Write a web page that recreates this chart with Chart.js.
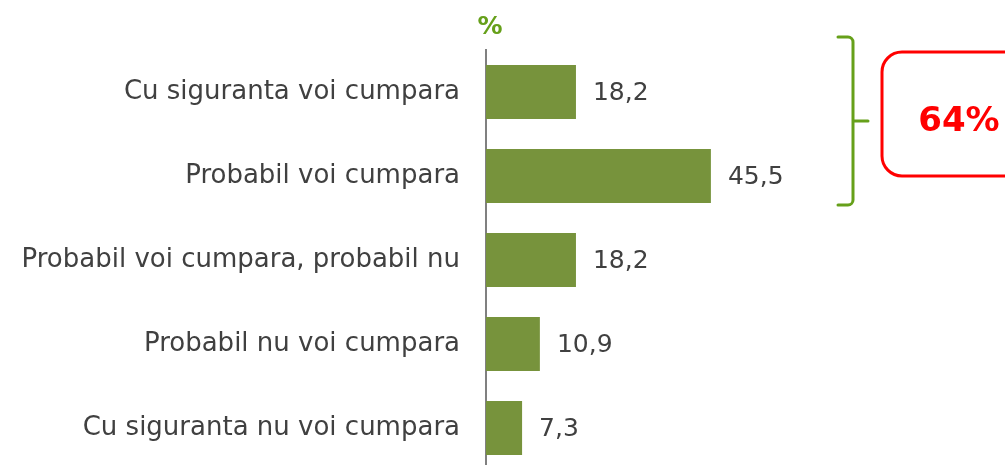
<!DOCTYPE html>
<html>
<head>
<meta charset="utf-8">
<script src="https://cdn.jsdelivr.net/npm/chart.js@4"></script>
<style>
  html, body { margin: 0; padding: 0; background: #fff; overflow: hidden; }
  canvas { display: block; }
</style>
</head>
<body>
<canvas id="chart" width="1005" height="472"></canvas>
<script>
// ---- data ----
const categories = [
  'Cu siguranta voi cumpara',
  'Probabil voi cumpara',
  'Probabil voi cumpara, probabil nu',
  'Probabil nu voi cumpara',
  'Cu siguranta nu voi cumpara'
];
const values = [18.2, 45.5, 18.2, 10.9, 7.3];
const unitLabel = '%';
const summaryLabel = '64%';

const green = '#77933C';
const textColor = '#404040';
const font = 'DejaVu Sans';

// value labels at the end of each bar
const valueLabels = {
  id: 'valueLabels',
  afterDatasetsDraw(chart) {
    const ctx = chart.ctx;
    const meta = chart.getDatasetMeta(0);
    ctx.save();
    ctx.font = '25px "' + font + '"';
    ctx.fillStyle = textColor;
    ctx.textBaseline = 'middle';
    meta.data.forEach((bar, i) => {
      ctx.fillText(values[i].toFixed(1).replace('.', ','), bar.x + 17, bar.y + 1);
    });
    ctx.restore();
  }
};

// "%" title, bracket over first two bars, red box
const extras = {
  id: 'extras',
  afterDraw(chart) {
    const ctx = chart.ctx;
    const area = chart.chartArea;
    const meta = chart.getDatasetMeta(0);
    ctx.save();
    ctx.font = 'bold 25px "' + font + '"';
    ctx.fillStyle = '#66A01A';
    ctx.textAlign = 'center';
    ctx.textBaseline = 'middle';
    ctx.fillText(unitLabel, area.left + 4, 27);

    // bracket
    const b0 = meta.data[0], b1 = meta.data[1];
    const top = b0.y - b0.height / 2 - 28;
    const bot = b1.y + b1.height / 2 + 2;
    const mid = (top + bot) / 2;
    const bx = 853, r = 5;
    ctx.strokeStyle = '#66A01A';
    ctx.lineWidth = 3;
    ctx.lineCap = 'round';
    ctx.beginPath();
    ctx.moveTo(838, top);
    ctx.arcTo(bx, top, bx, top + r, r);
    ctx.lineTo(bx, bot - r);
    ctx.arcTo(bx, bot, 838, bot, r);
    ctx.lineTo(838, bot);
    ctx.moveTo(bx, mid);
    ctx.lineTo(868, mid);
    ctx.stroke();

    // red rounded box
    ctx.strokeStyle = '#FF0000';
    ctx.lineWidth = 3;
    ctx.beginPath();
    ctx.roundRect(882, 52, 150, 124, 20);
    ctx.stroke();
    ctx.font = 'bold 34px "' + font + '"';
    ctx.fillStyle = '#FF0000';
    ctx.textAlign = 'center';
    ctx.fillText(summaryLabel, 959, mid + 1);
    ctx.restore();
  }
};

new Chart(document.getElementById('chart'), {
  type: 'bar',
  data: {
    labels: categories,
    datasets: [{
      data: values,
      backgroundColor: green,
      barPercentage: 0.64,
      categoryPercentage: 1
    }]
  },
  options: {
    indexAxis: 'y',
    responsive: false,
    animation: false,
    layout: { autoPadding: false, padding: { top: 50, bottom: 2, left: 0, right: 0 } },
    plugins: { legend: { display: false }, tooltip: { enabled: false } },
    scales: {
      x: { display: false, min: 0, max: 105 },
      y: {
        afterFit: scale => {
          scale.width = 486;
          // drop the label half-height + padding margins so bars fill the full height
          scale.paddingTop = 0;
          scale.paddingBottom = 0;
          if (scale._margins) { scale._margins.top = 0; scale._margins.bottom = 0; }
        },
        grid: { display: false },
        border: { display: true, color: '#808080', width: 2 },
        ticks: { color: textColor, padding: 18, font: { family: font, size: 26 } }
      }
    }
  },
  plugins: [valueLabels, extras]
});
</script>
</body>
</html>
